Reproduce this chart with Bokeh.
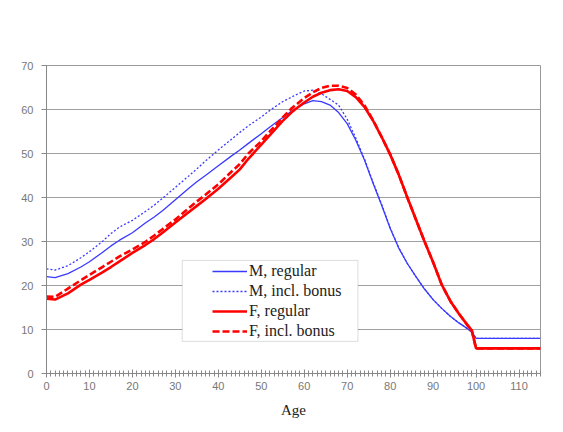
from bokeh.plotting import figure
from bokeh.models import FixedTicker, Legend, LegendItem, BoxAnnotation, Range1d
from bokeh.embed import file_html
from bokeh.resources import INLINE

ages = [0, 2, 5, 8, 10, 13, 15, 17, 20, 23, 25, 27, 30, 33, 35, 37, 40, 43, 45, 47,
        50, 52, 55, 57, 58, 60, 62, 64, 66, 68, 70, 72, 74, 76, 78, 80, 82, 84, 86,
        88, 90, 92, 94, 96, 98, 99, 100, 115]

m_regular = [22.0, 21.8, 22.7, 24.2, 25.4, 27.5, 29.0, 30.3, 32.0, 34.2, 35.5, 37.0,
             39.5, 42.0, 43.6, 45.0, 47.2, 49.4, 50.8, 52.3, 54.5, 56.0, 58.2, 59.6,
             60.2, 61.3, 62.0, 61.8, 61.0, 59.3, 56.8, 53.0, 48.6, 43.3, 38.3, 33.0,
             28.5, 25.0, 22.0, 19.2, 16.8, 14.8, 13.0, 11.5, 10.2, 9.4, 8.0, 8.0]

m_bonus = [23.8, 23.5, 24.5, 26.3, 27.7, 30.0, 31.8, 33.3, 34.8, 36.8, 38.2, 39.8,
           42.3, 44.8, 46.5, 48.3, 50.8, 53.2, 54.8, 56.3, 58.3, 59.8, 61.8, 62.8,
           63.3, 64.2, 64.4, 63.6, 62.3, 61.0, 57.8, 53.5, 48.8, 43.5, 38.5, 33.1,
           28.6, 25.0, 22.0, 19.2, 16.8, 14.8, 13.0, 11.5, 10.2, 9.4, 8.0, 8.0]

f_regular = [17.0, 16.8, 18.2, 20.2, 21.3, 23.0, 24.2, 25.5, 27.4, 29.2, 30.5, 32.0,
             34.3, 36.6, 38.1, 39.6, 42.0, 44.6, 46.4, 48.8, 52.0, 54.2, 57.4, 59.3,
             60.1, 61.6, 62.9, 63.8, 64.4, 64.6, 64.2, 62.8, 60.6, 57.5, 53.8, 49.8,
             45.2, 40.0, 35.0, 30.0, 25.3, 20.2, 16.5, 13.6, 11.0, 9.8, 5.7, 5.7]

f_bonus = [17.5, 17.4, 19.3, 21.2, 22.4, 24.2, 25.4, 26.6, 28.2, 29.9, 31.3, 32.8,
           35.0, 37.5, 39.1, 40.6, 43.0, 45.8, 47.6, 50.0, 52.8, 55.0, 58.2, 60.2,
           61.0, 62.6, 63.9, 64.9, 65.4, 65.4, 64.9, 63.4, 61.0, 57.6, 53.8, 49.8,
           45.2, 40.0, 35.0, 30.0, 25.3, 20.2, 16.5, 13.6, 11.0, 9.8, 5.7, 5.7]

series_labels = ["M, regular", "M, incl. bonus", "F, regular", "F, incl. bonus"]
x_major = list(range(0, 111, 10))
x_minor = list(range(0, 116))
y_major = list(range(0, 71, 10))

p = figure(width=553, height=424, x_range=Range1d(0, 115), y_range=Range1d(0, 70),
           output_backend="svg", toolbar_location=None, title=None,
           min_border_left=46, min_border_right=13, min_border_top=65,
           min_border_bottom=51)

p.background_fill_color = "white"
p.border_fill_color = "white"
p.outline_line_color = "#999999"

p.xgrid.visible = False
p.ygrid.ticker = FixedTicker(ticks=y_major)
p.ygrid.grid_line_color = "#a0a0a0"
p.ygrid.grid_line_width = 1

p.xaxis.ticker = FixedTicker(ticks=x_major, minor_ticks=x_minor)
p.xaxis.major_tick_in = 4
p.xaxis.major_tick_out = 4
p.xaxis.minor_tick_in = 3
p.xaxis.minor_tick_out = 3
p.xaxis.axis_label = "Age"
p.xaxis.axis_label_text_font = "Liberation Serif"
p.xaxis.axis_label_text_font_size = "15px"
p.xaxis.axis_label_text_font_style = "normal"
p.xaxis.axis_label_text_color = "#222222"
p.xaxis.axis_label_standoff = 9
p.xaxis.major_label_standoff = 4

p.yaxis.ticker = FixedTicker(ticks=y_major)
p.yaxis.major_tick_in = 0
p.yaxis.major_tick_out = 5
p.yaxis.major_label_standoff = 8

for ax in (p.xaxis, p.yaxis):
    ax.axis_line_color = "#888888"
    ax.major_tick_line_color = "#888888"
    ax.major_label_text_font = "Liberation Sans"
    ax.major_label_text_font_size = "11px"
    ax.major_label_text_color = "#777777"
p.xaxis.minor_tick_line_color = "#888888"
p.yaxis.minor_tick_line_color = None

r1 = p.line(ages, m_regular, line_color="#3a3aff", line_width=1.3)
r2 = p.line(ages, m_bonus, line_color="#3a3aff", line_width=1.3, line_dash="2 2")
r3 = p.line(ages, f_regular, line_color="#ff0000", line_width=2.6)
r4 = p.line(ages, f_bonus, line_color="#ff0000", line_width=2.6, line_dash="7 3")

box = BoxAnnotation(left=31.6, right=72.5, bottom=7.3, top=25.7,
                    fill_color="white", fill_alpha=1.0,
                    line_color="#909090", line_width=1)
p.add_layout(box)

legend = Legend(items=[LegendItem(label=lab, renderers=[r])
                       for lab, r in zip(series_labels, [r1, r2, r3, r4])],
                location=(166, 32), margin=0, padding=0, spacing=0,
                label_height=20, glyph_height=20, glyph_width=35,
                label_standoff=2, border_line_color=None,
                background_fill_alpha=0.0,
                label_text_font="Liberation Serif", label_text_font_size="16px",
                label_text_color="#222222")
p.add_layout(legend)

open("out.html", "w").write(file_html(p, INLINE))
